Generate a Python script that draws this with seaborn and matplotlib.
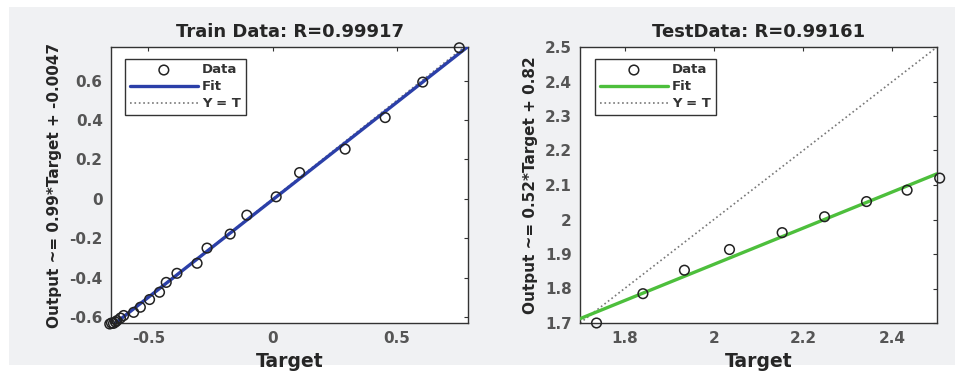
import numpy as np
import pandas as pd
import matplotlib.pyplot as plt
import seaborn as sns
from matplotlib.patches import Rectangle

sns.set_style("white")
plt.rcParams['font.family'] = ['DejaVu Sans']
plt.rcParams['axes.unicode_minus'] = False

##train data
train_target = [-0.655, -0.648, -0.640, -0.632, -0.626, -0.612, -0.599, -0.559, -0.532, -0.495,
                -0.455, -0.428, -0.385, -0.304, -0.264, -0.171, -0.104, 0.014, 0.108, 0.291,
                0.452, 0.603, 0.750]
train_output = [-0.635, -0.630, -0.632, -0.625, -0.618, -0.605, -0.592, -0.576, -0.550, -0.511,
                 -0.474, -0.424, -0.378, -0.327, -0.250, -0.179, -0.083, 0.010, 0.133, 0.252,
                 0.412, 0.592, 0.766]
train_fit = [0.99, -0.0047]

##test data
test_target = [1.737, 1.841, 1.934, 2.035, 2.153, 2.248, 2.342, 2.433, 2.506]
test_output = [1.700, 1.785, 1.853, 1.913, 1.962, 2.008, 2.052, 2.085, 2.120]
test_fit = [0.525, 0.82]

train_xticks = [-0.5, 0, 0.5]
train_xlabels = ['-0.5', '0', '0.5']
train_yticks = [-0.6, -0.4, -0.2, 0, 0.2, 0.4, 0.6]
train_ylabels = ['-0.6', '-0.4', '-0.2', '0', '0.2', '0.4', '0.6']
test_xticks = [1.8, 2.0, 2.2, 2.4]
test_xlabels = ['1.8', '2', '2.2', '2.4']
test_yticks = [1.7, 1.8, 1.9, 2.0, 2.1, 2.2, 2.3, 2.4, 2.5]
test_ylabels = ['1.7', '1.8', '1.9', '2', '2.1', '2.2', '2.3', '2.4', '2.5']

fig = plt.figure(figsize=(9.55, 3.77), dpi=100)
fig.patch.set_facecolor('white')
##grey matlab style window background
fig.add_artist(Rectangle((9/955, 1-365/377), 1-9/955, (365-7)/377,
                         transform=fig.transFigure, facecolor='#f0f1f3',
                         edgecolor='none', zorder=-10))

ax1 = fig.add_axes([111/955, 1-323/377, 357/955, 276/377])
ax2 = fig.add_axes([580/955, 1-323/377, 357/955, 276/377])


def panel(ax, tx, ty, fit, col, xlim, ylim, xt, xl, yt, yl, title, ylab, legx):
    df = pd.DataFrame({'Target': tx, 'Output': ty})
    sns.scatterplot(data=df, x='Target', y='Output', ax=ax, marker='o', s=48,
                    facecolor='none', edgecolor='#222222', linewidth=1.1,
                    label='Data', clip_on=False, zorder=4)
    xx = np.array(xlim)
    sns.lineplot(x=xx, y=fit[0]*xx + fit[1], ax=ax, color=col, linewidth=2.4,
                 label='Fit', zorder=3)
    sns.lineplot(x=xx, y=xx, ax=ax, color='#777777', linewidth=1.2,
                 linestyle=':', label='Y = T', zorder=2)
    ax.set_xlim(xlim)
    ax.set_ylim(ylim)
    ax.set_xticks(xt)
    ax.set_xticklabels(xl)
    ax.set_yticks(yt)
    ax.set_yticklabels(yl)
    ax.tick_params(direction='in', length=3, top=True, right=True, colors='#333333',
                   labelcolor='#555555', labelsize=11, pad=6)
    for lab in ax.get_xticklabels() + ax.get_yticklabels():
        lab.set_fontweight('bold')
    for sp in ax.spines.values():
        sp.set_color('#333333')
        sp.set_linewidth(1.0)
    ax.set_facecolor('white')
    ax.set_title(title, fontsize=13, fontweight='bold', pad=7)
    ax.set_xlabel('Target', fontsize=13.5, fontweight='bold', labelpad=4)
    ax.set_ylabel(ylab, fontsize=11, fontweight='bold', labelpad=5)
    leg = ax.legend(loc='upper left', bbox_to_anchor=(legx, 0.957), borderaxespad=0,
                    fontsize=9.5, handlelength=5.2, handletextpad=0.3, borderpad=0.35,
                    labelspacing=0.3, fancybox=False, framealpha=1,
                    edgecolor='#333333')
    for t in leg.get_texts():
        t.set_fontweight('bold')
        t.set_color('#333333')


panel(ax1, train_target, train_output, train_fit, '#2b3fa8', (-0.65, 0.785), (-0.63, 0.77),
      train_xticks, train_xlabels, train_yticks, train_ylabels,
      'Train Data: R=0.99917', 'Output ~= 0.99*Target + -0.0047', 0.039)
panel(ax2, test_target, test_output, test_fit, '#4dbf3c', (1.7, 2.5), (1.7, 2.5),
      test_xticks, test_xlabels, test_yticks, test_ylabels,
      'TestData: R=0.99161', 'Output ~= 0.52*Target + 0.82', 0.042)

fig.savefig('out.png', dpi=100, facecolor=fig.get_facecolor())
